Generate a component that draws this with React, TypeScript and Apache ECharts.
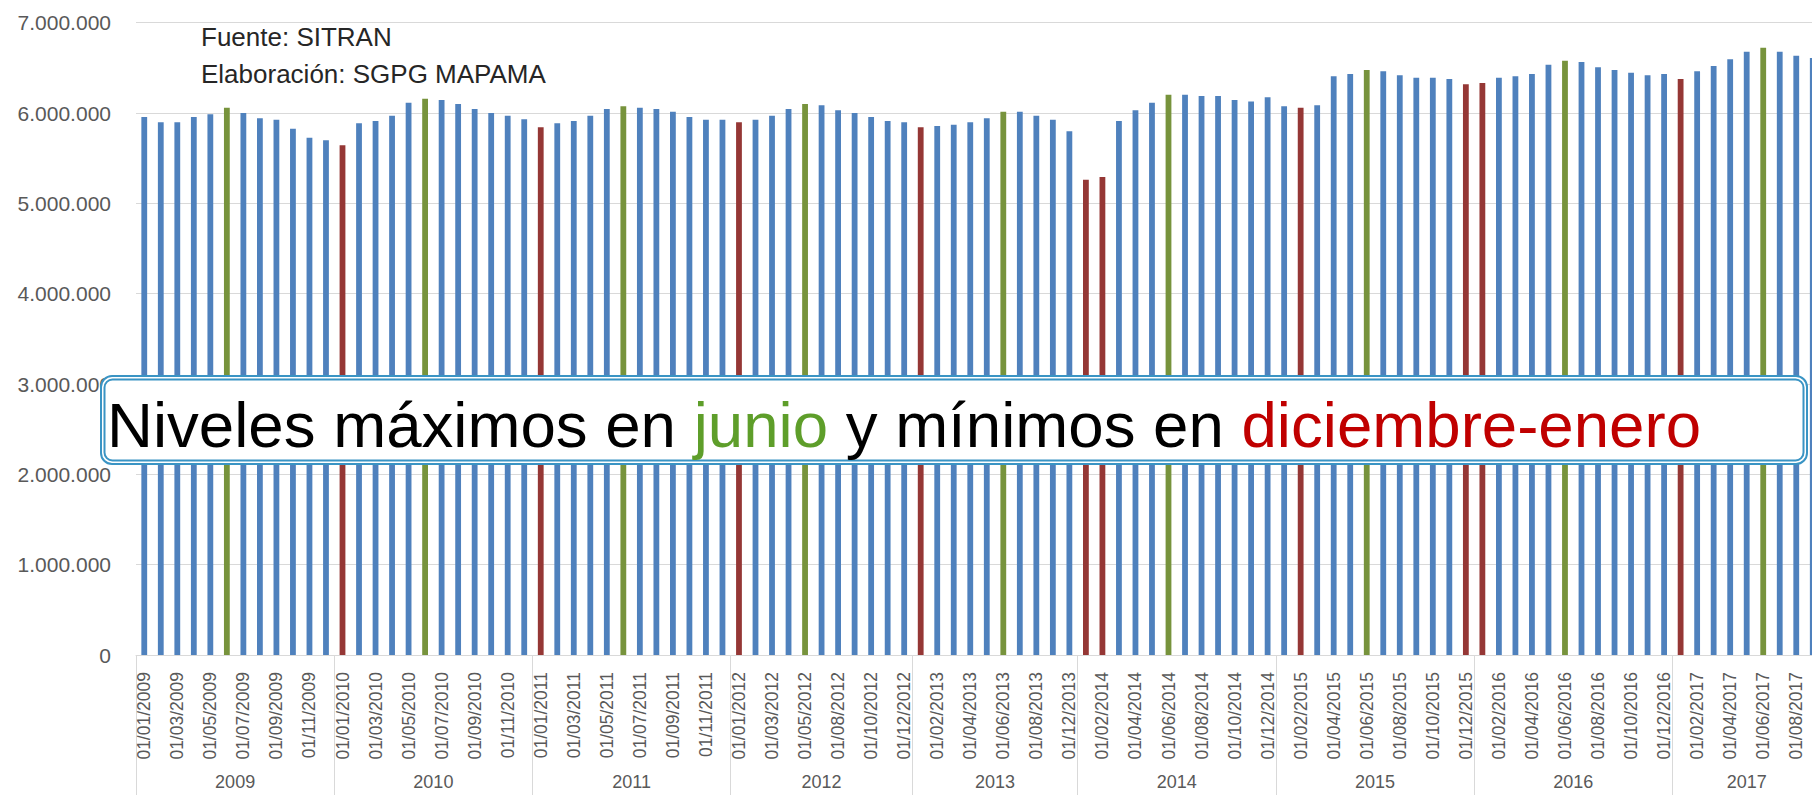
import { useEffect, useRef } from "react";
import * as echarts from "echarts";

// Monthly categories (as labelled in the source workbook)
const categories = [
  "01/01/2009", "01/02/2009", "01/03/2009", "01/04/2009", "01/05/2009", "01/06/2009",
  "01/07/2009", "01/08/2009", "01/09/2009", "01/10/2009", "01/11/2009", "01/12/2009",
  "01/01/2010", "01/02/2010", "01/03/2010", "01/04/2010", "01/05/2010", "01/06/2010",
  "01/07/2010", "01/08/2010", "01/09/2010", "01/10/2010", "01/11/2010", "01/12/2010",
  "01/01/2011", "01/02/2011", "01/03/2011", "01/04/2011", "01/05/2011", "01/06/2011",
  "01/07/2011", "01/08/2011", "01/09/2011", "01/10/2011", "01/11/2011", "01/12/2011",
  "01/01/2012", "01/02/2012", "01/03/2012", "01/04/2012", "01/05/2012", "01/06/2012",
  "01/08/2012", "01/09/2012", "01/10/2012", "01/11/2012", "01/12/2012",
  "01/01/2013", "01/02/2013", "01/03/2013", "01/04/2013", "01/05/2013", "01/06/2013",
  "01/07/2013", "01/08/2013", "01/09/2013", "01/12/2013",
  "01/01/2014", "01/02/2014", "01/03/2014", "01/04/2014", "01/05/2014", "01/06/2014",
  "01/07/2014", "01/08/2014", "01/09/2014", "01/10/2014", "01/11/2014", "01/12/2014",
  "01/01/2015", "01/02/2015", "01/03/2015", "01/04/2015", "01/05/2015", "01/06/2015",
  "01/07/2015", "01/08/2015", "01/09/2015", "01/10/2015", "01/11/2015", "01/12/2015",
  "01/01/2016", "01/02/2016", "01/03/2016", "01/04/2016", "01/05/2016", "01/06/2016",
  "01/07/2016", "01/08/2016", "01/09/2016", "01/10/2016", "01/11/2016", "01/12/2016",
  "01/01/2017", "01/02/2017", "01/03/2017", "01/04/2017", "01/05/2017", "01/06/2017",
  "01/07/2017", "01/08/2017", "01/09/2017",
];

// Values
const values = [
  5956000, 5897000, 5897000, 5956000, 5986000, 6059000, 6000000, 5941000, 5926000, 5826000, 5727000, 5698000,
  5642000, 5886000, 5911000, 5970000, 6114000, 6158000, 6144000, 6100000, 6044000, 6000000, 5970000, 5930000,
  5842000, 5886000, 5911000, 5970000, 6044000, 6074000, 6059000, 6044000, 6015000, 5956000, 5926000, 5926000,
  5897000, 5926000, 5970000, 6044000, 6100000, 6085000, 6030000, 6000000, 5956000, 5911000, 5897000,
  5842000, 5856000, 5871000, 5897000, 5941000, 6015000, 6015000, 5970000, 5926000, 5797000,
  5261000, 5291000, 5911000, 6030000, 6114000, 6203000, 6203000, 6188000, 6188000, 6144000, 6129000, 6174000,
  6074000, 6059000, 6085000, 6406000, 6432000, 6476000, 6462000, 6417000, 6391000, 6391000, 6377000, 6318000,
  6332000, 6391000, 6406000, 6432000, 6535000, 6579000, 6565000, 6506000, 6476000, 6447000, 6417000, 6432000,
  6377000, 6462000, 6520000, 6594000, 6679000, 6723000, 6679000, 6635000, 6609000,
];

// Highlighted months
const summerPeaks = [
  "01/06/2009", "01/06/2010", "01/06/2011", "01/05/2012", "01/06/2013",
  "01/06/2014", "01/06/2015", "01/06/2016", "01/06/2017",
];
const winterLows = [
  "01/01/2010", "01/01/2011", "01/01/2012", "01/01/2013", "01/01/2014", "01/02/2014",
  "01/02/2015", "01/12/2015", "01/01/2016", "01/01/2017",
];

const sourceLines = ["Fuente: SITRAN", "Elaboración: SGPG MAPAMA"];
const calloutParts = [
  { text: "Niveles máximos en ", tone: "k" },
  { text: "junio", tone: "g" },
  { text: " y mínimos en ", tone: "k" },
  { text: "diciembre-enero", tone: "r" },
];

const BLUE = "#4F81BD";
const GREEN = "#77933C";
const RED = "#953735";
const GRID = "#D9D9D9";
const LABEL = "#595959";
const FONT = "'Liberation Sans', Arial, sans-serif";

function fmtThousands(v: number) {
  return String(Math.round(v)).replace(/\B(?=(\d{3})+(?!\d))/g, ".");
}

export default function App() {
  const ref = useRef<HTMLDivElement>(null);

  useEffect(() => {
    if (!ref.current) return;
    const chart = echarts.init(ref.current, null, { renderer: "svg" });

    // year groups derived from categories
    const years: string[] = [];
    const starts: number[] = [];
    categories.forEach((c, i) => {
      const y = c.slice(6);
      if (years[years.length - 1] !== y) {
        years.push(y);
        starts.push(i);
      }
    });
    const edges = [...starts, categories.length];
    const centers = years.map((_, i) => (edges[i] + edges[i + 1]) / 2);

    const data = values.map((v, i) => {
      const c = categories[i];
      const color = summerPeaks.includes(c) ? GREEN : winterLows.includes(c) ? RED : BLUE;
      return { value: v, itemStyle: { color } };
    });

    const bandW = 16.52;
    const gridLeft = 136;

    chart.setOption({
      animation: false,
      backgroundColor: "#ffffff",
      grid: {
        left: gridLeft,
        top: 22.7,
        width: bandW * categories.length,
        height: 632.3,
        containLabel: false,
      },
      xAxis: [
        {
          type: "category",
          data: categories,
          boundaryGap: true,
          axisLine: { show: true, lineStyle: { color: GRID, width: 1 } },
          axisTick: { show: false },
          axisLabel: {
            interval: 1,
            rotate: 90,
            margin: 17,
            color: LABEL,
            fontSize: 17.5,
            fontFamily: FONT,
          },
          splitLine: { show: false },
        },
        {
          type: "value",
          position: "bottom",
          min: 0,
          max: categories.length,
          axisLine: { show: false },
          splitLine: { show: false },
          axisTick: {
            show: true,
            customValues: edges,
            length: 142,
            lineStyle: { color: GRID, width: 1 },
          },
          axisLabel: {
            customValues: centers,
            formatter: (v: number) => {
              const idx = centers.findIndex((c) => Math.abs(c - v) < 1e-6);
              return idx >= 0 ? years[idx] : "";
            },
            margin: 118,
            color: LABEL,
            fontSize: 18,
            fontFamily: FONT,
          },
        },
      ],
      yAxis: {
        type: "value",
        min: 0,
        max: 7000000,
        interval: 1000000,
        axisLine: { show: false },
        axisTick: { show: false },
        splitLine: { show: true, lineStyle: { color: GRID, width: 1 } },
        axisLabel: {
          formatter: (v: number) => fmtThousands(v),
          margin: 25,
          color: LABEL,
          fontSize: 21,
          fontFamily: FONT,
        },
      },
      series: [
        {
          type: "bar",
          xAxisIndex: 0,
          yAxisIndex: 0,
          barWidth: 5.8,
          data,
        },
      ],
      graphic: [
        {
          type: "text",
          x: 201,
          y: 37,
          z: 50,
          style: {
            text: sourceLines[0],
            fill: "#262626",
            fontSize: 26,
            fontFamily: FONT,
            verticalAlign: "middle",
          },
        },
        {
          type: "text",
          x: 201,
          y: 74,
          z: 50,
          style: {
            text: sourceLines[1],
            fill: "#262626",
            fontSize: 26,
            fontFamily: FONT,
            verticalAlign: "middle",
          },
        },
        {
          type: "rect",
          z: 100,
          shape: { x: 101, y: 376, width: 1706, height: 88, r: 11 },
          style: { fill: "#ffffff", stroke: "#3A94C4", lineWidth: 2 },
        },
        {
          type: "rect",
          z: 101,
          shape: { x: 104.5, y: 379.5, width: 1699, height: 81, r: 8 },
          style: { fill: "#ffffff", stroke: "#3A94C4", lineWidth: 2 },
        },
        {
          type: "text",
          x: 107,
          y: 424,
          z: 102,
          style: {
            text: calloutParts.map((p) => `{${p.tone}|${p.text}}`).join(""),
            verticalAlign: "middle",
            rich: {
              k: { fill: "#000000", fontSize: 63.6, fontFamily: FONT },
              g: { fill: "#5E9E2A", fontSize: 63.6, fontFamily: FONT },
              r: { fill: "#C00000", fontSize: 63.6, fontFamily: FONT },
            },
          },
        },
      ],
    });

    return () => chart.dispose();
  }, []);

  return (
    <div
      style={{
        position: "absolute",
        left: 0,
        top: 0,
        width: 1812,
        height: 795,
        overflow: "hidden",
        background: "#ffffff",
      }}
    >
      <div ref={ref} style={{ width: 1840, height: 795 }} />
    </div>
  );
}
